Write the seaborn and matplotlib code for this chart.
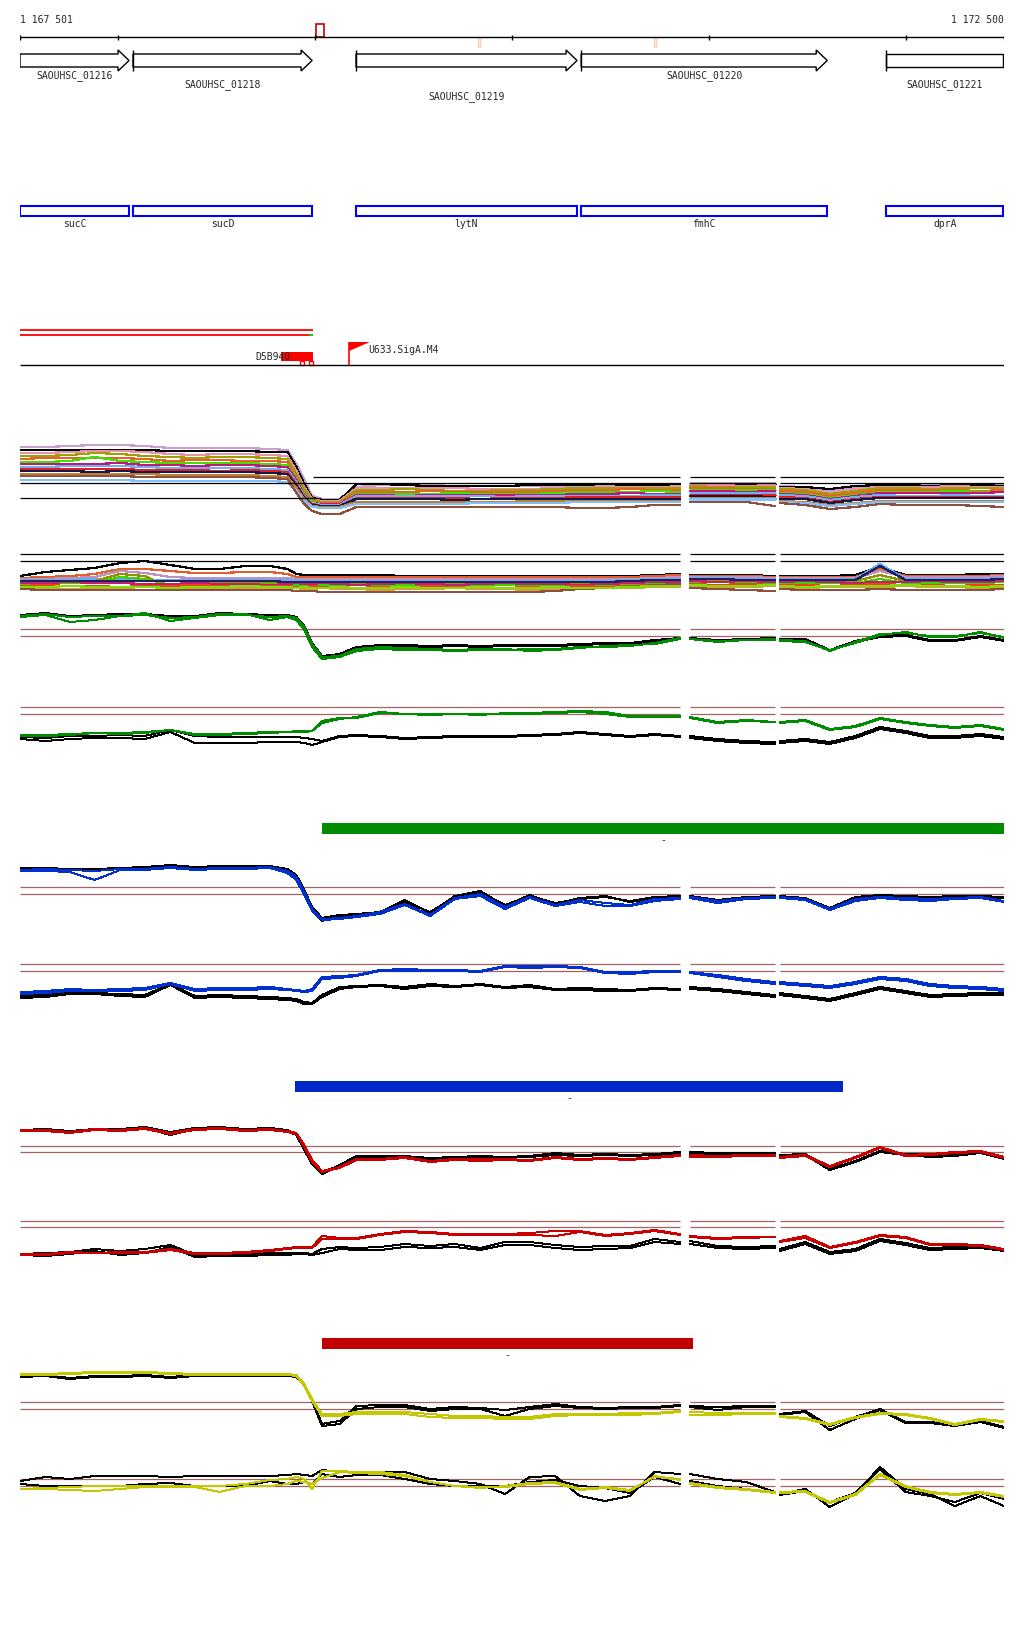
import numpy as np
import pandas as pd
import seaborn as sns
import matplotlib.pyplot as plt
from matplotlib.patches import Polygon, Rectangle

sns.set_style("white")
plt.rcParams['font.family'] = ['DejaVu Sans Mono']

W, H = 1024, 1640
START, END = 1167501, 1172500

# --- annotation data ---
ruler_ticks = [1168000, 1169000, 1170000, 1171000, 1172000]
gene_ids = ["SAOUHSC_01216", "SAOUHSC_01218", "SAOUHSC_01219", "SAOUHSC_01220", "SAOUHSC_01221"]
gene_names = ["sucC", "sucD", "lytN", "fmhC", "dprA"]
gene_start = [1167501, 1168075, 1169208, 1170352, 1171901]
gene_end = [1168055, 1168985, 1170331, 1171602, 1172496]
gene_cut = [False, False, False, False, True]
label_row = [0, 1, 2, 0, 1]
top_mark = [1169005, 1169046]
pink_marks = [1169833, 1170728]
operon_end = 1168990
term_name = "D5B940"
term_start, term_end = 1168827, 1168990
term_boxes = [(1168924, 1168944), (1168969, 1168990)]
prom_name = "U633.SigA.M4"
prom_pos = 1169173
bar_start = [1169036, 1168898, 1169036]
bar_end = [1172500, 1171683, 1170921]
bar_color = ["#008c00", "#0028c8", "#c00000"]

# --- probe positions (bp) ---
pos = [1167501, 1167630, 1167755, 1167880, 1168010, 1168135, 1168265, 1168390, 1168515, 1168645,
       1168770, 1168860, 1168905, 1168945, 1168985, 1169035, 1169125, 1169210, 1169330, 1169455,
       1169585, 1169710, 1169840, 1169965, 1170090, 1170220, 1170345, 1170475, 1170600, 1170725,
       1170855,
       1170905, 1171045, 1171190, 1171335,
       1171360, 1171490, 1171615, 1171745, 1171870, 1172000, 1172125, 1172250, 1172380, 1172500]
gaps = [1170880, 1171348]

# --- multi-sample tracks ---
t1_c01 = [72,72,73,74,74,73,71,71,71,71, 70,69,55,40,23,20,20,32,34,34, 34,33,33,33,33,33,33,33,33,33, 34, 36,36,36,36, 33,32,28,32,34,35,34,35,35,34]
t1_c02 = [69,69,69,69,69,69,68,68,68,68, 67,67,52,35,21,19,19,35,35,34, 33,33,33,33,34,34,34,35,34,34, 35, 35,35,35,35, 32,32,30,33,34,34,33,34,34,33]
t1_c03 = [66,66,67,68,68,67,65,64,65,65, 64,63,48,32,20,18,18,31,31,31, 31,31,30,30,30,31,31,32,32,32, 32, 34,34,33,34, 31,30,26,30,32,32,32,33,32,32]
t1_c04 = [63,63,64,66,65,63,62,61,62,62, 61,60,45,30,19,17,17,29,29,30, 29,28,28,29,29,30,31,31,31,31, 31, 33,32,32,32, 30,29,25,28,31,31,30,31,31,31]
t1_c05 = [60,61,61,61,61,60,58,59,59,58, 58,57,43,28,18,16,16,27,27,27, 28,27,27,27,27,28,29,29,30,29, 29, 31,31,30,30, 28,27,23,26,29,29,29,29,28,29]
t1_c06 = [57,57,58,62,58,57,56,56,56,56, 55,54,41,26,17,15,15,25,25,25, 25,26,25,25,25,26,27,27,27,28, 27, 29,29,29,29, 26,25,21,24,27,27,27,28,27,27]
t1_c07 = [55,55,55,55,56,54,54,53,54,54, 53,52,39,24,16,15,15,24,24,23, 24,24,24,24,24,24,25,25,26,25, 25, 28,28,27,28, 25,24,20,23,26,26,26,26,26,27]
t1_c08 = [52,52,53,53,53,52,51,51,51,51, 50,49,37,23,16,14,14,23,23,23, 23,23,23,22,23,23,23,23,23,24, 24, 26,26,26,26, 24,23,19,22,24,23,23,24,23,23]
t1_c09 = [50,50,50,50,50,49,49,49,48,49, 48,47,35,22,15,13,13,21,21,21, 21,21,20,21,21,21,22,22,22,22, 22, 24,24,24,24, 22,21,17,20,22,22,22,22,22,22]
t1_c10 = [48,48,48,47,48,47,47,47,47,47, 46,45,33,21,14,13,13,20,20,20, 20,19,20,20,20,20,20,20,20,20, 20, 23,23,23,22, 20,20,16,19,21,21,21,21,21,21]
t1_c11 = [45,45,45,45,45,45,44,44,44,44, 43,42,31,20,13,12,12,17,17,17, 17,17,17,17,18,18,18,18,18,18, 18, 21,21,21,21, 18,17,14,16,18,18,18,18,18,18]
t1_c12 = [39,39,39,39,39,38,38,38,38,38, 38,37,28,18,12,11,11,15,15,15, 15,15,16,16,16,16,17,17,17,17, 17, 20,20,20,20, 17,16,13,15,17,17,17,17,17,17]
t1_c13 = [43,43,43,43,43,42,42,42,42,42, 41,40,26,15,8,5,5,12,12,12, 12,12,12,12,12,12,11,11,12,14, 14, 17,17,17,13, 16,14,10,12,15,14,14,14,13,12]
t1_colors = ["#c8a0d0", "#000000", "#e890b0", "#a0a000", "#e8602c", "#40e000", "#c01880",
             "#70b0f0", "#e02020", "#101850", "#c08030", "#80c0ff", "#905040"]

t2_m01 = [33,37,39,41,46,48,44,40,40,43, 43,40,35,34,34,34,34,34,34,33, 33,33,33,33,33,33,33,33,33,34, 35, 34,34,34,33, 33,33,33,34,42,34,34,34,35,35]
t2_m02 = [31,32,33,35,40,40,38,36,36,37, 37,35,32,32,32,32,32,32,32,32, 32,32,32,32,32,32,32,32,32,33, 34, 33,33,33,32, 32,32,32,32,40,33,33,33,33,34]
t2_m03 = [30,30,31,32,38,36,32,31,31,31, 31,31,30,30,30,30,30,30,30,30, 30,30,30,30,30,30,30,30,30,31, 32, 32,32,32,31, 31,31,31,31,38,32,32,32,32,33]
t2_m04 = [29,29,29,30,30,29,29,29,29,29, 29,29,29,28,28,28,28,28,28,28, 28,28,28,28,28,28,28,28,29,30, 30, 31,31,30,30, 30,30,30,30,45,30,30,30,30,31]
t2_m05 = [27,27,28,28,35,33,20,26,27,27, 27,27,26,26,26,26,26,26,26,26, 26,26,26,26,26,26,26,26,27,28, 28, 29,29,28,28, 28,28,28,28,34,28,28,28,28,29]
t2_m06 = [25,25,26,26,32,30,24,25,25,25, 25,25,24,24,24,24,24,24,24,24, 24,24,24,24,24,24,24,24,25,26, 26, 27,27,27,26, 26,26,26,26,30,26,26,26,26,27]
t2_m07 = [26,26,27,26,26,25,25,26,25,25, 24,25,26,25,25,26,25,24,25,26, 25,24,25,26,25,25,24,25,26,27, 27, 28,27,28,27, 27,28,27,26,27,27,28,27,27,28]
t2_m08 = [23,24,23,23,22,23,23,24,23,22, 23,23,22,22,23,22,22,21,22,22, 23,22,22,21,22,22,23,22,23,24, 24, 25,24,25,24, 24,24,23,24,25,24,24,23,24,24]
t2_m09 = [21,21,20,21,21,22,21,21,20,21, 21,20,21,20,20,21,20,20,19,20, 20,21,20,20,19,20,20,21,21,22, 22, 23,22,22,23, 22,21,22,22,22,23,22,22,21,22]
t2_m10 = [20,19,19,19,19,19,19,19,19,19, 19,19,18,18,18,17,17,17,17,17, 17,17,17,17,17,18,20,21,22,24, 25, 21,20,19,18, 20,19,19,19,20,19,19,19,19,20]
t2_m11 = [22,22,23,22,22,22,21,22,22,23, 22,22,21,22,21,21,22,21,21,22, 21,21,22,21,21,22,21,21,22,23, 23, 24,23,23,24, 23,22,23,23,23,24,23,23,22,23]
t2_m12 = [28,28,28,28,28,28,28,28,28,28, 28,27,27,27,27,27,27,27,27,27, 27,27,27,27,27,27,27,27,28,29, 29, 30,30,29,29, 29,29,29,29,43,29,29,29,29,30]
t2_colors = ["#000000", "#e06030", "#c090c0", "#60b0f0", "#909000", "#40d000",
             "#c02070", "#f04020", "#d0a040", "#905040", "#80e000", "#202060"]

# --- paired tracks (colour = condition, black = reference) ---
g1_green_a = [53,55,52,53,53,54,51,52,55,54, 52,53,51,42,25,12,13,20,22,21, 20,19,20,19,20,20,22,22,23,26, 31, 30,28,29,30, 29,28,18,27,35,36,33,33,36,32]
g1_green_b = [52,54,47,49,53,56,48,51,54,55, 49,52,49,39,22,10,12,18,20,19, 19,18,19,20,18,19,21,23,24,25, 30, 30,27,29,29, 28,27,19,26,34,37,32,32,37,31]
g1_black_a = [54,56,53,54,55,55,53,53,56,55, 54,54,52,43,26,13,15,22,24,24, 23,24,23,24,24,24,25,26,26,29, 31, 31,29,30,31, 30,30,19,28,33,34,29,29,33,29]
g1_black_b = [53,55,52,53,54,54,52,52,55,54, 53,53,51,40,23,11,14,21,23,23, 22,23,22,23,23,23,24,25,25,27, 30, 30,28,29,30, 29,29,18,27,32,33,28,28,32,28]

g2_green_a = [24,24,25,26,26,27,29,25,25,26, 27,27,27,27,28,38,41,41,46,45, 45,45,45,45,46,47,48,47,43,43, 43, 42,37,39,37, 37,39,30,33,41,37,34,32,34,30]
g2_green_b = [23,23,24,26,25,26,29,24,24,25, 26,27,28,28,28,36,40,42,47,45, 44,45,44,46,45,46,47,45,42,42, 42, 41,36,38,37, 36,38,29,32,40,36,33,31,33,29]
g2_black_a = [22,21,23,23,24,23,29,23,22,22, 22,22,22,21,20,18,23,24,23,21, 22,23,23,23,24,25,27,25,23,25, 23, 23,20,18,17, 18,20,17,23,32,28,23,23,25,22]
g2_black_b = [20,18,20,21,21,20,27,16,16,16, 17,17,17,16,14,17,22,23,22,20, 21,22,22,22,23,24,26,24,22,24, 22, 21,18,16,15, 16,18,15,21,30,26,21,21,23,20]

b1_blue_a = [54,55,54,53,55,55,57,55,56,56, 57,53,47,32,15,5,6,8,12,20, 9,26,30,17,27,19,24,21,19,25, 26, 27,23,26,27, 27,25,15,25,27,26,25,26,27,23]
b1_blue_b = [53,53,52,44,54,54,56,54,55,55, 56,51,44,29,13,4,5,7,10,19, 8,25,28,15,26,18,22,18,18,23, 25, 26,21,25,26, 26,24,14,23,26,24,23,25,26,22]
b1_black_a = [56,56,55,55,56,57,59,57,58,58, 58,55,49,34,17,6,9,10,11,22, 12,27,32,19,28,21,25,27,23,27, 28, 28,24,27,28, 28,26,16,27,29,28,27,28,28,27]
b1_black_b = [55,55,54,54,55,56,58,56,57,57, 57,54,47,32,14,3,8,10,12,24, 11,28,33,18,29,20,26,28,22,26, 28, 27,23,26,27, 27,25,14,26,28,27,26,27,27,26]

b2_blue_a = [17,18,20,19,20,21,26,20,21,21, 22,20,19,18,20,32,33,34,39,40, 39,39,38,43,43,43,42,37,37,38, 38, 37,34,30,27, 27,25,23,27,32,30,25,23,22,20]
b2_blue_b = [15,16,18,18,18,19,25,18,19,19, 20,19,18,17,18,30,31,33,38,38, 38,38,37,42,41,42,41,36,35,37, 37, 36,32,28,25, 25,23,21,25,30,28,23,21,20,18]
b2_black_a = [13,14,17,16,15,14,25,13,14,13, 12,11,10,7,6,14,22,23,24,22, 25,23,25,22,24,20,21,20,19,21, 20, 22,20,17,14, 16,13,10,16,22,18,14,15,16,16]
b2_black_b = [11,12,15,15,13,12,24,11,12,11, 10,9,8,5,5,12,20,22,23,20, 23,22,24,21,22,19,19,18,18,20, 19, 20,18,15,12, 14,11,8,14,20,16,12,13,14,14]

r1_red_a = [49,49,47,50,49,51,46,50,51,49, 50,48,46,34,19,8,12,20,20,22, 18,20,20,20,19,22,20,21,20,22, 24, 24,23,24,24, 22,24,13,22,32,24,25,27,28,22]
r1_red_b = [48,48,46,49,48,50,45,49,50,48, 49,47,45,32,17,7,11,19,19,21, 17,19,18,19,18,21,19,20,19,21, 23, 22,22,23,23, 21,23,12,21,31,23,24,26,27,21]
r1_black_a = [49,50,48,50,50,52,47,51,52,50, 51,49,45,30,16,6,14,23,23,23, 21,22,23,22,23,26,24,25,24,25, 27, 27,26,26,26, 24,25,10,18,28,25,24,24,27,22]
r1_black_b = [48,49,47,49,49,51,44,50,51,49, 50,48,44,29,15,5,13,22,22,22, 20,21,22,21,22,24,23,24,23,24, 26, 26,25,25,25, 23,24,9,17,27,24,22,23,26,20]

r2_red_a = [15,15,17,16,17,17,20,16,16,17, 19,21,22,22,22,33,31,31,35,38, 37,35,35,35,36,38,38,34,36,39, 35, 33,31,32,32, 28,33,22,27,34,32,25,25,24,20]
r2_red_b = [14,14,16,16,16,16,19,15,15,16, 18,20,21,21,21,30,30,30,34,37, 36,34,34,34,34,33,37,33,35,38, 34, 32,30,31,32, 27,31,21,26,33,31,24,24,23,19]
r2_black_a = [15,16,17,20,18,20,24,14,15,15, 16,16,16,16,15,20,22,21,22,25, 23,25,21,27,27,24,22,23,23,30, 27, 28,23,22,23, 20,27,17,20,30,26,21,22,23,20]
r2_black_b = [14,13,15,18,14,16,22,12,13,13, 14,14,15,15,14,16,20,19,19,22, 21,22,19,24,24,21,19,20,21,27, 25, 25,21,20,21, 18,25,15,18,28,24,19,20,21,18]

y1_yellow_a = [65,65,66,67,67,67,66,65,65,65, 65,65,64,55,40,25,25,27,27,27, 25,23,23,22,22,25,25,25,26,26, 28, 27,26,26,26, 23,21,15,22,26,25,21,15,20,18]
y1_yellow_b = [64,64,65,66,66,66,65,64,64,64, 64,64,63,53,38,23,23,25,25,25, 22,21,21,20,20,23,24,24,24,25, 27, 24,24,25,25, 22,20,14,21,25,24,20,14,19,17]
y1_black_a = [63,64,61,63,63,64,62,64,64,64, 64,64,63,55,40,15,18,33,34,34, 30,32,31,29,32,35,32,31,32,32, 34, 33,32,33,33, 25,28,13,22,30,17,17,14,18,12]
y1_black_b = [62,63,60,62,62,63,61,63,63,63, 63,63,62,54,38,13,15,30,32,32, 28,30,30,23,30,33,31,30,31,31, 33, 32,29,32,32, 24,27,9,20,29,16,16,13,17,11]

y2_yellow_a = [35,36,37,38,38,38,38,38,38,40, 44,45,47,45,35,53,53,52,52,49, 42,38,36,38,41,42,35,37,34,47, 45, 41,37,35,32, 32,33,22,30,50,38,32,30,32,28]
y2_yellow_b = [35,35,34,33,35,37,37,37,32,38, 38,40,43,42,40,46,52,51,50,48, 42,38,37,37,40,41,34,36,33,48, 44, 40,36,34,31, 31,32,21,29,49,37,31,29,31,27]
y2_black_a = [43,47,45,48,48,48,47,48,48,48, 48,49,50,49,48,54,52,52,52,52, 45,43,40,30,47,48,28,23,28,52, 50, 50,45,42,32, 30,35,17,30,57,35,30,18,28,18]
y2_black_b = [40,38,38,38,38,40,41,38,38,38, 43,40,40,42,40,50,47,49,49,45, 40,38,38,38,42,44,38,36,31,47, 40, 43,38,35,32, 29,33,22,31,55,32,28,22,31,25]

# cut-off levels per track
t1_cut = [42, 36, 21]
t2_cut = [55, 48]
g1_cut = [40, 33]
g2_cut = [52, 45]
b1_cut = [37, 30]
b2_cut = [45, 38]
r1_cut = [33, 27]
r2_cut = [48, 42]
y1_cut = [37, 30]
y2_cut = [45, 38]

seg = np.searchsorted(gaps, pos)
seg_lo = [min(p for p, s in zip(pos, seg) if s == k) for k in range(3)]
seg_hi = [max(p for p, s in zip(pos, seg) if s == k) for k in range(3)]

fig = plt.figure(figsize=(W / 100, H / 100), dpi=100)
CUT = "#a06464"


def track(top, bottom):
    ax = fig.add_axes([20 / W, 1 - bottom / H, 984 / W, (bottom - top) / H])
    return ax


def finish(ax, top, bottom):
    ax.set_xlim(START, END)
    ax.set_ylim(0, bottom - top)
    ax.set_axis_off()


def draw(ax, names, values, colors, lw=0.7):
    df = pd.concat([pd.DataFrame({"pos": pos, "val": v, "seg": seg, "name": n})
                    for n, v in zip(names, values)])
    sns.lineplot(data=df, x="pos", y="val", hue="name", units="seg", estimator=None,
                 hue_order=names, palette=dict(zip(names, colors)), legend=False,
                 linewidth=lw, antialiased=False, ax=ax)


def cutoffs(ax, level, color, lo=START, hi=END):
    for a, b in zip(seg_lo, seg_hi):
        a2, b2 = max(a, lo), min(b, hi)
        if a2 < b2:
            ax.hlines(level, a2, b2, color=color, lw=0.9)


# multi-sample track 1
ax = track(430, 520)
t1 = [t1_c01, t1_c02, t1_c03, t1_c04, t1_c05, t1_c06, t1_c07, t1_c08, t1_c09, t1_c10, t1_c11, t1_c12, t1_c13]
draw(ax, [f"s{i}" for i in range(len(t1))], t1, t1_colors, lw=0.85)
cutoffs(ax, t1_cut[0], "black", lo=operon_end)
cutoffs(ax, t1_cut[1], "black")
cutoffs(ax, t1_cut[2], "black", hi=1169030)
finish(ax, 430, 520)

# multi-sample track 2
ax = track(540, 610)
t2 = [t2_m01, t2_m02, t2_m03, t2_m04, t2_m05, t2_m06, t2_m07, t2_m08, t2_m09, t2_m10, t2_m11, t2_m12]
draw(ax, [f"m{i}" for i in range(len(t2))], t2, t2_colors, lw=0.85)
for lv in t2_cut:
    cutoffs(ax, lv, "black")
finish(ax, 540, 610)

pairs = [
    (600, 670, g1_cut, [g1_black_a, g1_black_b, g1_green_a, g1_green_b], "#008c00"),
    (690, 760, g2_cut, [g2_black_a, g2_black_b, g2_green_a, g2_green_b], "#008c00"),
    (855, 925, b1_cut, [b1_black_a, b1_black_b, b1_blue_a, b1_blue_b], "#0030d0"),
    (950, 1010, b2_cut, [b2_black_a, b2_black_b, b2_blue_a, b2_blue_b], "#0030d0"),
    (1100, 1180, r1_cut, [r1_black_a, r1_black_b, r1_red_a, r1_red_b], "#cc0000"),
    (1205, 1270, r2_cut, [r2_black_a, r2_black_b, r2_red_a, r2_red_b], "#cc0000"),
    (1360, 1440, y1_cut, [y1_black_a, y1_black_b, y1_yellow_a, y1_yellow_b], "#c4c800"),
    (1455, 1525, y2_cut, [y2_black_a, y2_black_b, y2_yellow_a, y2_yellow_b], "#c4c800"),
]
for top, bottom, cut, series, col in pairs:
    ax = track(top, bottom)
    for lv in cut:
        cutoffs(ax, lv, CUT)
    draw(ax, ["ka", "kb", "ca", "cb"], series, ["black", "black", col, col])
    finish(ax, top, bottom)

# --- annotation layer ---
ann = fig.add_axes([20 / W, 0, 984 / W, 1])
ann.set_xlim(START, END)
ann.set_ylim(H, 0)
ann.set_axis_off()
fs = 7


def fmt(v):
    return f"{v:,}".replace(",", " ")


ann.text(START, 20, fmt(START), ha="left", va="center", fontsize=fs)
ann.text(END, 20, fmt(END), ha="right", va="center", fontsize=fs)
ann.hlines(38, START, END, color="black", lw=1)
ann.vlines([START] + ruler_ticks + [END], 35.5, 40.5, color="black", lw=1)
ann.add_patch(Rectangle((top_mark[0], 25), top_mark[1] - top_mark[0], 13,
                        fill=False, ec="#c00000", lw=1.2))
for p in pink_marks:
    ann.add_patch(Rectangle((p - 5, 38), 10, 10, fill=False, ec="#ffc8b8", lw=1))

head = 56
for i, (s, e) in enumerate(zip(gene_start, gene_end)):
    if gene_cut[i]:
        pts = [(s, 55), (e, 55), (e, 68), (s, 68)]
    else:
        pts = [(s, 55), (e - head, 55), (e - head, 51), (e, 61.5),
               (e - head, 72), (e - head, 68), (s, 68)]
    ann.add_patch(Polygon(pts, closed=True, fc="white", ec="black", lw=1))
    if i > 0:
        ann.vlines(s, 51, 72, color="black", lw=1)
    ann.text((s + e) / 2, [76, 85, 97][label_row[i]], gene_ids[i], ha="center", va="center", fontsize=fs)
    ann.add_patch(Rectangle((s, 207), e - s, 10, fill=False, ec="#0000ff", lw=1.5))
    ann.text((s + e) / 2, 224, gene_names[i], ha="center", va="center", fontsize=fs)

ann.hlines([331, 336], START, operon_end, color="#ff0000", lw=1.3)
ann.hlines(336, operon_end - 20, operon_end, color="#00e000", lw=1.3)
ann.add_patch(Rectangle((term_start, 353), term_end - term_start, 9, fc="#ff0000", ec="none"))
for a, b in term_boxes:
    ann.add_patch(Rectangle((a, 362), b - a, 4, fill=False, ec="#ff0000", lw=1))
ann.text(1168695, 357.5, term_name, ha="left", va="center", fontsize=fs, zorder=5)
ann.hlines(366, START, END, color="black", lw=1)
ann.vlines(prom_pos, 343, 366, color="#ff0000", lw=1.2)
ann.add_patch(Polygon([(prom_pos, 343), (prom_pos + 105, 343), (prom_pos, 352)],
                      closed=True, fc="#ff0000", ec="none"))
ann.text(prom_pos + 97, 350, prom_name, ha="left", va="center", fontsize=fs)

for s, e, c, y in zip(bar_start, bar_end, bar_color, [824, 1082, 1339]):
    ann.add_patch(Rectangle((s, y), e - s, 11, fc=c, ec="none"))
    ann.text((s + e) / 2, y + 16, "-", ha="center", va="center", fontsize=fs)

fig.savefig("out.png", dpi=100)
